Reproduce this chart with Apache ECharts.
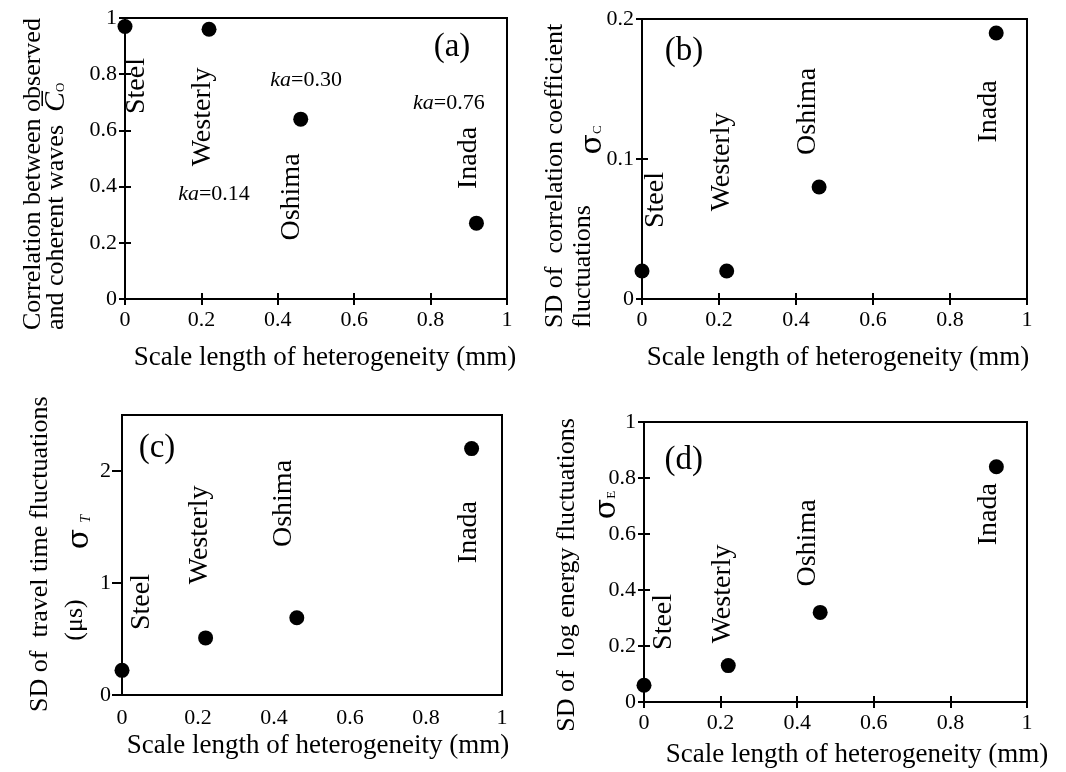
<!DOCTYPE html>
<html>
<head>
<meta charset="utf-8">
<script src="https://cdn.jsdelivr.net/npm/echarts@6/dist/echarts.min.js"></script>
<style>
html,body{margin:0;padding:0;background:#fff;}
#chart{width:1066px;height:772px;}
</style>
</head>
<body>
<div id="chart"></div>
<script>
// ---- data ----
const stations = ['Steel', 'Westerly', 'Oshima', 'Inada'];
const scaleLength = [0, 0.22, 0.46, 0.92];
const corrC0 = [0.97, 0.96, 0.64, 0.27];
const sigmaC = [0.02, 0.02, 0.08, 0.19];
const sigmaT = [0.22, 0.51, 0.69, 2.2];
const sigmaE = [0.06, 0.13, 0.32, 0.84];
const kaValues = ['0.14', '0.30', '0.76'];
const xTickLabels = ['0', '0.2', '0.4', '0.6', '0.8', '1'];
const xTitle = 'Scale length of heterogeneity (mm)';

// annotation anchor points (data coordinates) for station names, ka labels and panel tags
const annA = [[0.031, 0.758], [0.202, 0.648], [0.437, 0.363], [0.90, 0.502]];
const kaPosA = [[0.233, 0.374], [0.474, 0.779], [0.848, 0.698]];
const annB = [[0.036, 0.0707], [0.208, 0.0979], [0.429, 0.134], [0.901, 0.134]];
const annC = [[0.053, 0.83], [0.205, 1.43], [0.426, 1.71], [0.913, 1.455]];
const annD = [[0.050, 0.286], [0.206, 0.386], [0.426, 0.568], [0.901, 0.671]];
const tagPos = [[0.856, 0.897], [0.109, 0.177], [0.092, 2.2], [0.104, 0.864]];
const tags = ['(a)', '(b)', '(c)', '(d)'];

const FONT = 'Liberation Serif, Times New Roman, serif';

const panels = [
  {grid: {left: 125, top: 18, width: 382, height: 281}, ymax: 1, yint: 0.2, values: corrC0, ann: annA, cross: true},
  {grid: {left: 642, top: 19, width: 385, height: 280}, ymax: 0.2, yint: 0.1, values: sigmaC, ann: annB, cross: true},
  {grid: {left: 122, top: 415, width: 380, height: 280}, ymax: 2.5, yint: 1, values: sigmaT, ann: annC, cross: false},
  {grid: {left: 644, top: 422, width: 383, height: 280}, ymax: 1, yint: 0.2, values: sigmaE, ann: annD, cross: true}
];

const grids = [], xAxes = [], yAxes = [], series = [];
const tickLab = {fontFamily: FONT, fontSize: 22, color: '#000'};

panels.forEach((p, i) => {
  grids.push(Object.assign({show: true, borderColor: '#000', borderWidth: 2, containLabel: false, outerBoundsMode: 'none'}, p.grid));
  const xi = xAxes.length, yi = yAxes.length;
  xAxes.push({
    type: 'value', gridIndex: i, min: 0, max: 1, interval: 0.2, position: 'bottom',
    axisLine: {show: true, onZero: false, lineStyle: {color: '#000', width: 2}},
    axisTick: {show: p.cross, inside: false, length: 6, lineStyle: {color: '#000', width: 2}},
    splitLine: {show: false},
    axisLabel: Object.assign({margin: p.cross ? 10 : 12, formatter: (v) => xTickLabels[Math.round(v / 0.2)]}, tickLab)
  });
  yAxes.push({
    type: 'value', gridIndex: i, min: 0, max: p.ymax, interval: p.yint, position: 'left',
    axisLine: {show: true, onZero: false, lineStyle: {color: '#000', width: 2}},
    axisTick: {show: true, inside: false, length: p.cross ? 6 : 10, lineStyle: {color: '#000', width: 2}},
    splitLine: {show: false},
    axisLabel: Object.assign({margin: p.cross ? 8 : 11, showMaxLabel: p.ymax !== 2.5}, tickLab)
  });
  if (p.cross) {
    xAxes.push({
      type: 'value', gridIndex: i, min: 0, max: 1, interval: 0.2, position: 'bottom',
      axisLine: {show: false}, axisLabel: {show: false}, splitLine: {show: false},
      axisTick: {show: true, inside: true, length: 6, lineStyle: {color: '#000', width: 2}}
    });
    yAxes.push({
      type: 'value', gridIndex: i, min: 0, max: p.ymax, interval: p.yint, position: 'left',
      axisLine: {show: false}, axisLabel: {show: false}, splitLine: {show: false},
      axisTick: {show: true, inside: true, length: 6, lineStyle: {color: '#000', width: 2}}
    });
  }
  // data points
  series.push({
    type: 'scatter', xAxisIndex: xi, yAxisIndex: yi, symbol: 'circle', symbolSize: 15,
    itemStyle: {color: '#000', opacity: 1}, silent: true,
    data: scaleLength.map((x, k) => [x, p.values[k]])
  });
  // annotations: station names (rotated), tag, ka values
  const annData = stations.map((s, k) => ({
    value: p.ann[k],
    label: {formatter: s, rotate: 90, fontSize: 28}
  }));
  annData.push({value: tagPos[i], label: {formatter: tags[i], rotate: 0, fontSize: 33}});
  if (i === 0) {
    kaValues.forEach((v, k) => annData.push({
      value: kaPosA[k], label: {formatter: '{i|ka}=' + v, rotate: 0, fontSize: 22}
    }));
  }
  series.push({
    type: 'scatter', xAxisIndex: xi, yAxisIndex: yi, symbolSize: 1, silent: true,
    itemStyle: {color: 'rgba(0,0,0,0)', opacity: 1},
    label: {
      show: true, position: 'inside', color: '#000', fontFamily: FONT, align: 'center', verticalAlign: 'middle',
      rich: {i: {fontFamily: FONT, fontStyle: 'italic', fontSize: 22, color: '#000'}}
    },
    labelLayout: {hideOverlap: false},
    data: annData
  });
});

// axis titles
const R = Math.PI / 2;
function vtext(x, y, text, align, rich, size) {
  return {
    type: 'text', x: x, y: y, rotation: R, silent: true,
    style: {text: text, fontFamily: FONT, fontSize: size || 26, fill: '#000', align: align, verticalAlign: 'middle', rich: rich || {}}
  };
}
const sigRich = {
  g: {fontFamily: 'DejaVu Serif, serif', fontSize: 30, fill: '#000', color: '#000'},
  s: {fontFamily: FONT, fontSize: 13, fill: '#000', color: '#000', padding: [10, 0, 0, 0]},
  si: {fontFamily: FONT, fontSize: 14, fontStyle: 'italic', fill: '#000', color: '#000', padding: [12, 0, 0, 6]},
  c: {fontFamily: FONT, fontSize: 30, fontStyle: 'italic', fill: '#000', color: '#000'}
};
function htext(x, y, text) {
  return {type: 'text', x: x, y: y, silent: true, style: {text: text, fontFamily: FONT, fontSize: 27, fill: '#000', align: 'center', verticalAlign: 'middle'}};
}
const graphics = [
  htext(325, 358, xTitle),
  htext(838, 358, xTitle),
  htext(318, 746, xTitle),
  htext(857, 755, xTitle),
  // (a) y title
  vtext(33, 330, 'Correlation between observed', 'left'),
  vtext(56, 330, 'and coherent waves  {c|C\u0305}{s|O}', 'left', sigRich),
  // (b) y title
  vtext(555, 328, 'SD of  correlation coefficient', 'left'),
  vtext(583, 328, 'fluctuations', 'left'),
  vtext(593, 140, '{g|\u03c3}{s|C}', 'center', sigRich),
  // (c) y title
  vtext(40, 712, 'SD of  travel time fluctuations', 'left'),
  vtext(75, 620, '(\u03bcs)', 'center'),
  vtext(80, 532, '{g|\u03c3}{si|T}', 'center', sigRich),
  // (d) y title
  vtext(567, 575, 'SD of  log energy fluctuations', 'center'),
  vtext(607, 505, '{g|\u03c3}{s|E}', 'center', sigRich)
];

const chart = echarts.init(document.getElementById('chart'), null, {renderer: 'canvas'});
chart.setOption({
  animation: false,
  backgroundColor: '#fff',
  grid: grids,
  xAxis: xAxes,
  yAxis: yAxes,
  series: series,
  graphic: graphics
});
</script>
</body>
</html>
